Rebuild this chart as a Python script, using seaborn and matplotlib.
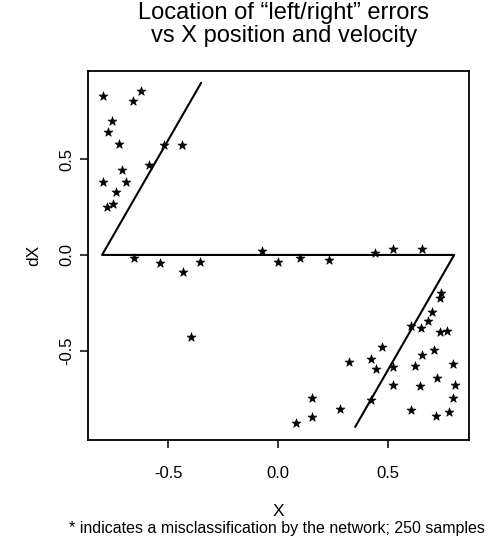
import matplotlib
matplotlib.use("Agg")
import matplotlib.pyplot as plt
import seaborn as sns
import pandas as pd

# misclassified samples (X position, dX velocity)
x_vals = [-0.797, -0.623, -0.658, -0.755, -0.774, -0.723, -0.518, -0.438, -0.588,
          -0.711, -0.797, -0.692, -0.738, -0.777, -0.751,
          -0.655, -0.535, -0.430, -0.356, -0.394, -0.073, 0.000,
          0.098, 0.233, 0.442, 0.520, 0.655, 0.741, 0.735, 0.701, 0.679, 0.603,
          0.650, 0.736, 0.768, 0.473, 0.709, 0.656, 0.424, 0.323, 0.521, 0.445,
          0.621, 0.795, 0.724, 0.524, 0.645, 0.803, 0.793, 0.156, 0.424, 0.280,
          0.603, 0.776, 0.718, 0.153, 0.082]
dx_vals = [0.830, 0.860, 0.804, 0.699, 0.643, 0.582, 0.577, 0.577, 0.472,
           0.446, 0.379, 0.379, 0.329, 0.253, 0.267,
           -0.017, -0.042, -0.089, -0.038, -0.428, 0.021, -0.038,
           -0.017, -0.024, 0.012, 0.033, 0.033, -0.198, -0.227, -0.301, -0.344, -0.371,
           -0.383, -0.404, -0.400, -0.481, -0.495, -0.526, -0.545, -0.558, -0.586, -0.596,
           -0.579, -0.570, -0.642, -0.678, -0.687, -0.682, -0.746, -0.746, -0.760, -0.804,
           -0.809, -0.820, -0.841, -0.850, -0.879]

# decision boundary polyline
boundary_x = [-0.35, -0.8, 0.8, 0.35]
boundary_y = [0.9, 0.0, 0.0, -0.9]

x_ticks = [-0.5, 0.0, 0.5]
y_ticks = [-0.5, 0.0, 0.5]
x_tick_labels = ["-0.5", "0.0", "0.5"]
y_tick_labels = ["-0.5", "0.0", "0.5"]

title = "Location of \u201cleft/right\u201d errors\nvs X position and velocity"
x_label = "X"
y_label = "dX"
footnote = "* indicates a misclassification by the network; 250 samples"

sns.set_theme(style="white")
plt.rcParams['font.family'] = ['Liberation Sans', 'DejaVu Sans']
plt.rcParams['text.color'] = 'black'
plt.rcParams['axes.labelcolor'] = 'black'
plt.rcParams['xtick.color'] = 'black'
plt.rcParams['ytick.color'] = 'black'

fig = plt.figure(figsize=(4.88, 5.41), dpi=100)
ax = fig.add_axes([0.1803, 0.1867, 0.781, 0.682])

df = pd.DataFrame({"X": x_vals, "dX": dx_vals})
sns.scatterplot(data=df, x="X", y="dX", ax=ax, marker="*", s=45,
                color="black", edgecolor="black", linewidth=0.5)
sns.lineplot(x=boundary_x, y=boundary_y, ax=ax, sort=False, estimator=None,
             color="black", linewidth=1.5)

ax.set_xlim(-0.864, 0.868)
ax.set_ylim(-0.968, 0.962)
ax.set_xticks(x_ticks)
ax.set_xticklabels(x_tick_labels, fontsize=12)
ax.set_yticks(y_ticks)
ax.set_yticklabels(y_tick_labels, fontsize=12, rotation=90, va="center")
ax.tick_params(axis="x", direction="out", length=6, width=1.1, color="black",
               bottom=True, pad=13)
ax.tick_params(axis="y", direction="out", length=6, width=1.1, color="black",
               left=True, pad=4)
for s in ax.spines.values():
    s.set_color("black")
    s.set_linewidth(1.3)

ax.set_xlabel(x_label, fontsize=12.5, labelpad=16)
ax.set_ylabel(y_label, fontsize=12.5, labelpad=13)
ax.set_title(title, fontsize=17, pad=21, linespacing=1.05, x=0.514)
fig.text(0.568, 0.010, footnote, ha="center", va="bottom", fontsize=11.5)

fig.savefig("out.png", dpi=100)
